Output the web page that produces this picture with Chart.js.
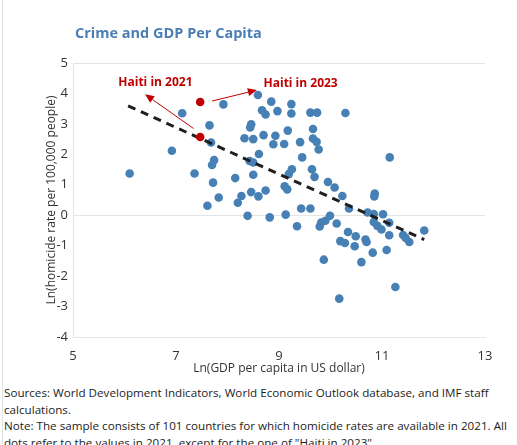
<!DOCTYPE html>
<html>
<head>
<meta charset="utf-8">
<script src="https://cdn.jsdelivr.net/npm/chart.js@4.4.1/dist/chart.umd.min.js"></script>
<style>
  html, body { margin: 0; padding: 0; background: #fff; overflow: hidden; }
  body { width: 517px; height: 445px; position: relative; font-family: 'Open Sans', 'Noto Sans', sans-serif; }
  #edge { position: absolute; left: 2px; top: 0; bottom: 0; border-left: 1px solid #e2e2e2; }
  #title { position: absolute; left: 75px; top: 23px; line-height: 20px; font-weight: 700; font-size: 14.5px; color: #4A7EB5; white-space: nowrap; }
  #chartBox { position: absolute; left: 0; top: 0; width: 517px; height: 380px; }
  #notes { position: absolute; left: 4px; top: 385px; font-size: 11.65px; line-height: 16.5px; color: #1c1c1c; white-space: nowrap; }
</style>
</head>
<body>
<div id="edge"></div>
<div id="chartBox"><canvas id="c" width="517" height="380"></canvas></div>
<div id="title">Crime and GDP Per Capita</div>
<div id="notes">Sources: World Development Indicators, World Economic Outlook database, and IMF staff<br>calculations.<br>Note: The sample consists of 101 countries for which homicide rates are available in 2021. All<br>dots refer to the values in 2021, except for the one of "Haiti in 2023".</div>
<script>
// Ln(GDP per capita, US$) for each country, 2021
const gdpLn = [
  6.10, 6.92, 7.12, 7.92, 7.65, 7.68, 7.36, 7.74, 7.70, 7.72,
  8.15, 8.33, 8.50, 8.46, 8.44, 8.61, 8.43, 8.50, 8.50, 8.59,
  8.67, 8.74, 8.85, 8.97, 8.70, 8.93, 8.89, 9.10, 9.17, 9.24,
  9.24, 9.41, 9.61, 9.74, 10.29, 9.66, 9.66, 9.73, 9.77, 9.45,
  11.15, 7.83, 7.61, 8.27, 8.20, 8.46, 8.60, 8.74, 8.39, 8.82,
  9.13, 9.11, 9.16, 9.25, 9.19, 9.35, 9.43, 9.61, 9.64, 9.69,
  9.95, 10.08, 10.23, 10.36, 10.86, 10.85, 10.72, 10.84, 11.02, 10.84,
  10.91, 10.99, 11.14, 9.99, 9.90, 9.82, 9.79, 10.12, 10.34, 10.49,
  10.47, 10.19, 10.28, 10.68, 10.70, 10.82, 11.09, 11.14, 11.41, 11.46,
  11.53, 11.82, 9.87, 10.60, 11.26, 10.17
];
// Ln(homicides per 100,000 people), 2021, same order as gdpLn
const homicideLn = [
  1.37, 2.12, 3.35, 3.64, 2.95, 2.39, 1.37, 1.81, 1.65, 1.07,
  1.22, 2.53, 2.50, 2.99, 2.88, 2.01, 1.78, 1.73, 1.33, 3.95,
  3.45, 3.31, 3.73, 3.42, 2.63, 2.61, 2.33, 2.34, 2.78, 3.65,
  3.34, 2.40, 3.37, 3.37, 3.36, 2.83, 2.52, 2.41, 2.16, 1.90,
  1.90, 0.58, 0.31, 0.63, 0.41, 0.76, 0.62, 0.81, -0.02, -0.07,
  0.02, 0.95, 0.85, 1.51, 1.35, -0.36, 0.22, 0.22, 1.51, 1.26,
  1.09, 0.91, 0.63, 0.22, 0.71, 0.62, 0.09, 0.04, 0.03, -0.22,
  -0.35, -0.47, -0.25, -0.02, -0.18, -0.24, -0.37, -0.27, -0.55, -0.69,
  -1.02, -0.85, -0.91, -0.80, -0.88, -1.23, -1.14, -0.66, -0.65, -0.75,
  -0.88, -0.50, -1.46, -1.54, -2.36, -2.74
];
// Haiti, highlighted
const haitiLabels = ['Haiti in 2021', 'Haiti in 2023'];
const haitiGdpLn = [7.47, 7.47];
const haitiHomicideLn = [2.57, 3.72];
// Fitted linear trend, endpoints
const trendGdpLn = [6.07, 11.82];
const trendHomicideLn = [3.59, -0.80];
// Axis ranges
const xTicks = [5, 7, 9, 11, 13];
const yTicks = [-4, -3, -2, -1, 0, 1, 2, 3, 4, 5];

const RED = '#C00000';
const BLUE = '#4680B4';
const GRID = '#e4e4e4';

const toPoints = (xs, ys) => xs.map((v, i) => ({ x: v, y: ys[i] }));

// Red callout labels with arrows pointing at the Haiti dots
const callouts = {
  id: 'callouts',
  afterDatasetsDraw(chart, args, opts) {
    const { ctx, scales: { x, y } } = chart;
    ctx.save();
    ctx.strokeStyle = opts.color;
    ctx.fillStyle = opts.color;
    opts.items.forEach(it => {
      const x0 = x.getPixelForValue(it.from[0]), y0 = y.getPixelForValue(it.from[1]);
      const x1 = x.getPixelForValue(it.to[0]), y1 = y.getPixelForValue(it.to[1]);
      const a = Math.atan2(y1 - y0, x1 - x0);
      const len = 9, half = 4;
      const bx = x1 - len * Math.cos(a), by = y1 - len * Math.sin(a);
      ctx.lineWidth = 1;
      ctx.beginPath(); ctx.moveTo(x0, y0); ctx.lineTo(bx, by); ctx.stroke();
      ctx.beginPath();
      ctx.moveTo(x1, y1);
      ctx.lineTo(bx + half * Math.sin(a), by - half * Math.cos(a));
      ctx.lineTo(bx - half * Math.sin(a), by + half * Math.cos(a));
      ctx.closePath(); ctx.fill();
      ctx.font = opts.font;
      ctx.textAlign = 'center';
      ctx.textBaseline = 'middle';
      ctx.fillText(it.text, x.getPixelForValue(it.at[0]), y.getPixelForValue(it.at[1]));
    });
    ctx.restore();
  }
};

Chart.defaults.font.family = "'Open Sans', 'Noto Sans', sans-serif";
Chart.defaults.color = '#333';

new Chart(document.getElementById('c'), {
  type: 'scatter',
  data: {
    datasets: [
      {
        label: 'Haiti',
        data: toPoints(haitiGdpLn, haitiHomicideLn),
        backgroundColor: RED,
        borderWidth: 0,
        pointRadius: 4.3,
        order: 0
      },
      {
        label: 'Trend',
        data: toPoints(trendGdpLn, trendHomicideLn),
        showLine: true,
        borderColor: '#1e1e1e',
        borderWidth: 3,
        borderDash: [8, 6],
        pointRadius: 0,
        order: 1
      },
      {
        label: 'Countries',
        data: toPoints(gdpLn, homicideLn),
        backgroundColor: BLUE,
        borderWidth: 0,
        pointRadius: 4.3,
        order: 2
      }
    ]
  },
  options: {
    responsive: false,
    animation: false,
    events: [],
    layout: { padding: { left: 40, top: 63, right: 32, bottom: 0 } },
    plugins: {
      legend: { display: false },
      tooltip: { enabled: false },
      callouts: {
        color: RED,
        font: "bold 12px 'Open Sans', 'Noto Sans', sans-serif",
        items: [
          { text: haitiLabels[0], at: [6.60, 4.36], from: [7.34, 2.85], to: [6.40, 3.97] },
          { text: haitiLabels[1], at: [9.42, 4.34], from: [7.70, 3.75], to: [8.57, 4.11] }
        ]
      }
    },
    scales: {
      x: {
        type: 'linear',
        min: xTicks[0],
        max: xTicks[xTicks.length - 1],
        afterBuildTicks: s => { s.ticks = xTicks.map(v => ({ value: v })); },
        afterFit: s => { s.height = 43; },
        grid: { color: 'rgba(0,0,0,0)', drawTicks: false },
        border: { display: true, color: GRID, width: 1 },
        ticks: { padding: 11, font: { size: 13 }, color: '#333', maxRotation: 0 },
        title: { display: true, text: 'Ln(GDP per capita in US dollar)', font: { size: 12 }, color: '#333', padding: { top: 2, bottom: 4 } }
      },
      y: {
        type: 'linear',
        min: yTicks[0],
        max: yTicks[yTicks.length - 1],
        afterBuildTicks: s => { s.ticks = yTicks.map(v => ({ value: v })); },
        afterFit: s => { s.width = 33; },
        grid: {
          drawTicks: false,
          color: c => (c.tick && (c.tick.value === 5 || c.tick.value === 0)) ? GRID : 'rgba(0,0,0,0)'
        },
        border: { display: true, color: GRID, width: 1 },
        ticks: { padding: 5, font: { size: 13 }, color: '#333' },
        title: { display: true, text: 'Ln(homicide rate per 100,000 people)', font: { size: 12 }, color: '#333', padding: { top: 4, bottom: 4 } }
      }
    }
  },
  plugins: [callouts]
});
</script>
</body>
</html>
